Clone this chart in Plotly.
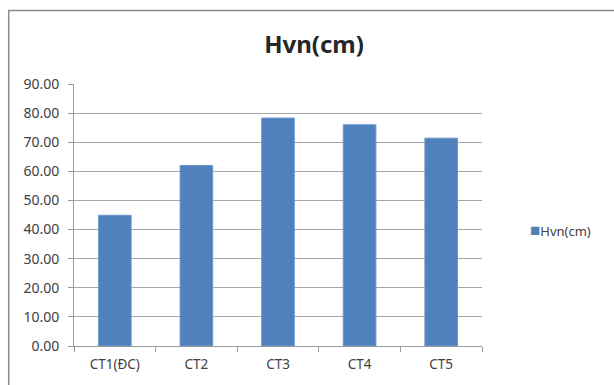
import plotly.graph_objects as go

categories = ["CT1(ĐC)", "CT2", "CT3", "CT4", "CT5"]
hvn_values = [44.9, 62.0, 78.3, 76.0, 71.4]
series_name = "Hvn(cm)"
title_text = "Hvn(cm)"
y_ticks = [0, 10, 20, 30, 40, 50, 60, 70, 80, 90]

W, H = 614, 385
L, R, T, B = 74, 132, 84, 39
pw = W - L - R
ph = H - T - B

def px_x(x):
    return (x - L) / pw

def px_y(y):
    return (H - B - y) / ph

fig = go.Figure()
fig.add_trace(go.Bar(
    x=categories, y=hvn_values, name=series_name,
    marker=dict(color="#4f81bd", line=dict(color="#6d98cc", width=1)),
    showlegend=False,
))

fig.update_layout(
    width=W, height=H,
    margin=dict(l=L, r=R, t=T, b=B),
    paper_bgcolor="white", plot_bgcolor="white",
    font=dict(family="Noto Sans, Liberation Sans, sans-serif", color="#404040", size=12),
    title=dict(text="<b>" + title_text + "</b>", x=314 / W, xanchor="center",
               y=1 - 45 / H, yanchor="middle",
               font=dict(size=24, color="#262626")),
    bargap=0.6,
    showlegend=False,
    xaxis=dict(type="category", showline=True, linecolor="#9a9a9a", linewidth=1,
               ticks="outside", tickson="boundaries", ticklen=5, tickcolor="#9a9a9a",
               ticklabelstandoff=6,
               showgrid=False, tickfont=dict(size=13.5, color="#404040")),
    yaxis=dict(range=[0, 90], tickvals=y_ticks,
               ticktext=[f"{v:.2f}" for v in y_ticks],
               showline=True, linecolor="#9a9a9a", linewidth=1,
               ticks="outside", ticklen=5, tickcolor="#9a9a9a",
               ticklabelstandoff=6,
               showgrid=True, gridcolor="#a6a6a6", gridwidth=1,
               zeroline=False, tickfont=dict(size=14, color="#404040")),
    annotations=[
        dict(xref="paper", yref="paper", x=px_x(528), y=px_y(229),
             xanchor="left", yanchor="middle", showarrow=False,
             text="<span style='color:#4f81bd;font-size:17px'>■</span>" + series_name,
             font=dict(size=13, color="#404040")),
    ],
    shapes=[
        dict(type="line", xref="paper", yref="paper",
             x0=px_x(8), x1=px_x(614), y0=px_y(10.5), y1=px_y(10.5),
             line=dict(color="#8c8c8c", width=1.5)),
        dict(type="line", xref="paper", yref="paper",
             x0=px_x(8.7), x1=px_x(8.7), y0=px_y(10.5), y1=px_y(385),
             line=dict(color="#8c8c8c", width=1.5)),
    ],
)

fig.write_html(
    "out.html",
    config={"displayModeBar": False},
    post_script="document.body.style.margin='0';document.body.style.overflow='hidden';",
)
